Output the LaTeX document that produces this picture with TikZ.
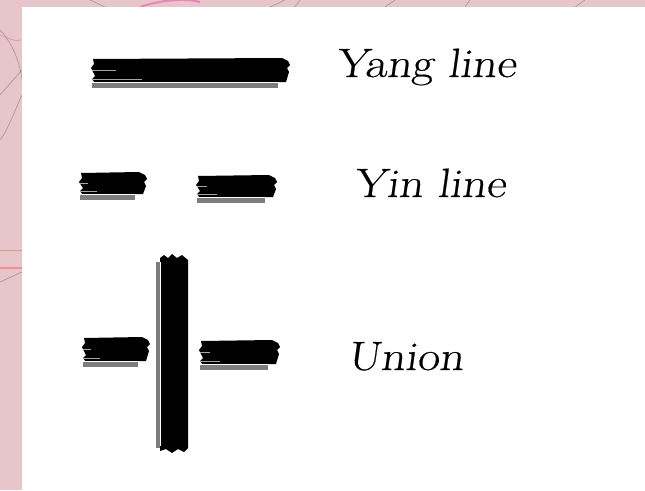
\documentclass[tikz,border=0pt]{standalone}
\usepackage{fontspec}
\usetikzlibrary{calc}
\newfontfamily\labelfont[FakeSlant=0.12,FakeBold=0.4]{Latin Modern Roman}
\newcommand\widetext[1]{\scalebox{1.17}[1]{#1}}
\definecolor{bgpink}{RGB}{231,197,203}
\definecolor{shadowgray}{RGB}{125,125,125}
\tikzset{
  ink/.style={fill=black},
  inkshadow/.style={fill=shadowgray},
  streak/.style={draw=gray!70, line width=0.7pt},
  deco/.style={line width=0.8pt, opacity=0.55},
  label/.style={anchor=base west, inner sep=0pt, font=\labelfont\fontsize{41}{41}\selectfont}
}
% horizontal brush stroke: #1=x left, #2=y top, #3=x right, #4=y bottom
\newcommand\hbrush[4]{%
  \fill[inkshadow] (#1,#4-6) rectangle (#3-12,#4);
  \fill[ink] (#1+1,#2+1) -- (#3-8,#2) -- (#3-2,#2+3) -- (#3,#2+7)
     -- (#3-3,#2+10) -- (#3-1,#2+14) -- (#3-4,#4-6) -- (#1+3,#4-5)
     -- (#1,#4-9) -- (#1+3,#4-12) -- (#1-1,#2+10) -- (#1+2,#2+6) -- cycle;
  \draw[streak] (#1,#4-9) -- (#1+0.25*#3-0.25*#1,#4-9);
  \draw[streak] (#1,#2+0.4*#4-0.4*#2) -- (#1+0.12*#3-0.12*#1,#2+0.4*#4-0.4*#2);
  \draw[draw=white, line width=0.5pt] (#1,#4-5.7) -- (#3-12,#4-5.7);
}
\begin{document}
\begin{tikzpicture}[x=1pt,y=-1pt]
\useasboundingbox (0,0) rectangle (645,490);
% background
\fill[bgpink] (0,0) rectangle (645,490);
\draw[deco, draw=gray] (0,30) .. controls (10,40) and (20,60) .. (22,80);
\draw[deco, draw=magenta!60] (0,35) .. controls (8,38) and (15,42) .. (22,40);
\draw[deco, draw=gray] (0,140) .. controls (8,130) and (15,110) .. (22,95);
\draw[deco, draw=gray] (0,95) -- (22,70);
\draw[deco, draw=brown] (0,250) -- (22,250);
\draw[deco, draw=red!60, line width=1.5pt] (0,268) -- (22,268);
\draw[deco, draw=gray] (0,282) -- (22,272);
\draw[deco, draw=magenta!70, line width=2pt] (140,7) .. controls (160,0) and (185,-2) .. (200,2);
\draw[deco, draw=gray] (90,0) -- (105,7);
\draw[deco, draw=gray] (270,7) -- (285,0);
\draw[deco, draw=gray] (295,7) -- (300,0);
\draw[deco, draw=gray] (385,7) -- (395,0);
\draw[deco, draw=gray] (465,7) -- (470,0);
\draw[deco, draw=gray] (575,7) -- (585,0);
% white panel
\fill[white] (22,7) rectangle (645,490);

% Yang line
\hbrush{92}{58}{290}{88}
% Yin line
\hbrush{80}{172}{147}{200}
\hbrush{197}{175}{277}{203}
% Union
\hbrush{83}{337}{150}{367}
\hbrush{200}{340}{280}{370}
\fill[inkshadow] (156,262) rectangle (161,448);
\fill[ink] (160,258) -- (164,255) -- (168,258) -- (172,254) -- (177,258) -- (182,255) -- (188,260)
  -- (188,448) -- (184,452) -- (178,449) -- (172,453) -- (166,449) -- (160,451) -- cycle;
\draw[draw=white, line width=0.5pt] (160.5,262) -- (160.5,446);

% labels
\node[label] (yang) at (335,77) {\widetext{Yang line}};
\node[label] (yin) at (353,197) {\widetext{Yin line}};
\node[label] (union) at (347,370) {\widetext{Union}};
\end{tikzpicture}
\end{document}
